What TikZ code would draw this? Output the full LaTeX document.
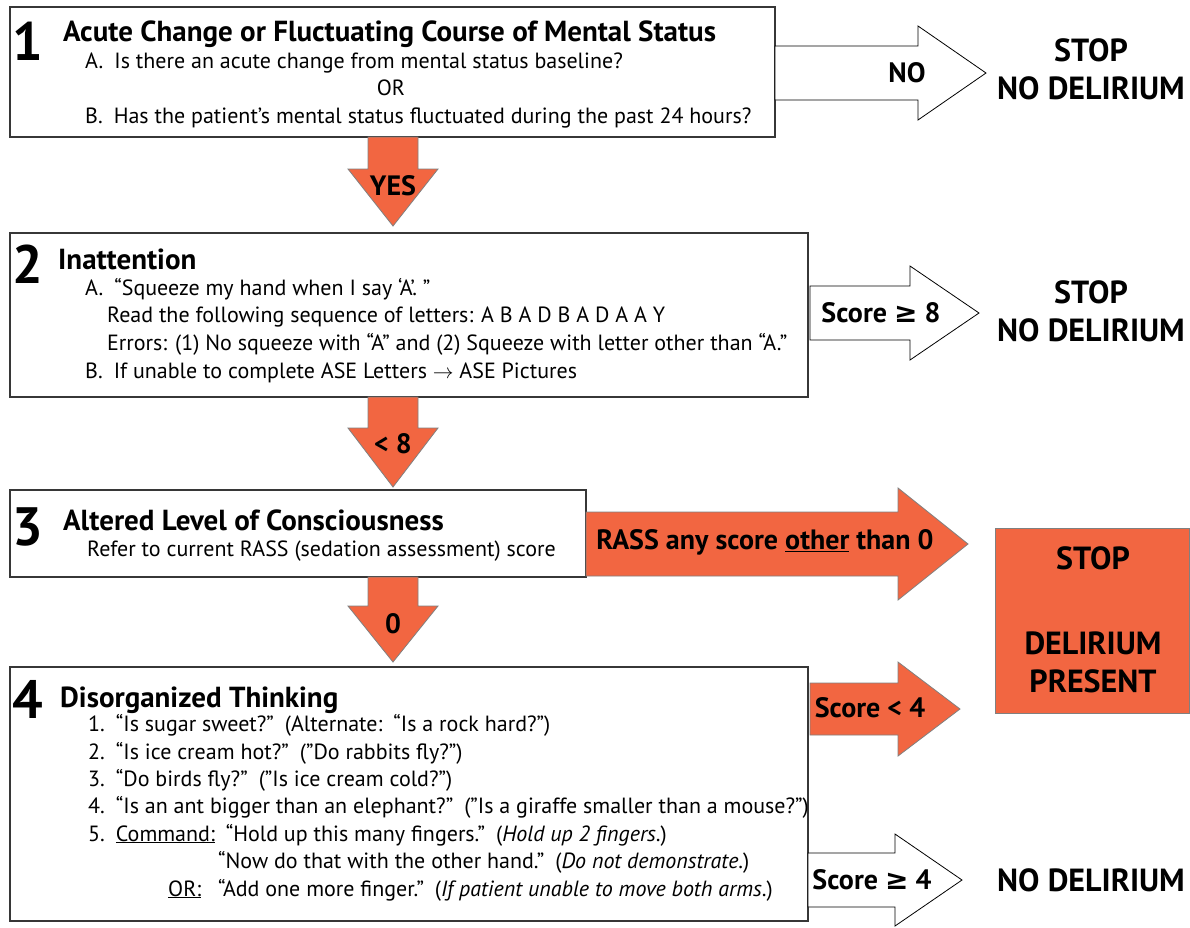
\documentclass[tikz,border=0pt]{standalone}
\usepackage{fontspec}
\setmainfont{PT Sans}
\newfontfamily\symfont{DejaVu Sans}
\usepackage{xcolor}
\usetikzlibrary{positioning}

\definecolor{camorange}{RGB}{242,102,65}
\definecolor{boxline}{RGB}{55,55,55}

% block arrow to the right: style, start x, head x, tip x, mid y, half shaft, half head
\newcommand{\rightblock}[7]{%
  \filldraw[#1] (#2,#5-#6) -- (#3,#5-#6) -- (#3,#5-#7) -- (#4,#5)
    -- (#3,#5+#7) -- (#3,#5+#6) -- (#2,#5+#6) -- cycle;}
% block arrow downwards: style, mid x, start y, head y, tip y, half shaft, half head
\newcommand{\downblock}[7]{%
  \filldraw[#1] (#2-#6,#3) -- (#2-#6,#4) -- (#2-#7,#4) -- (#2,#5)
    -- (#2+#7,#4) -- (#2+#6,#4) -- (#2+#6,#3) -- cycle;}

\begin{document}
\begin{tikzpicture}[x=1pt, y=-1pt,
    box/.style={draw=boxline, line width=1.3pt},
    num/.style={anchor=base west, inner sep=0, font=\fontsize{54}{54}\selectfont\bfseries},
    head/.style={anchor=base west, inner sep=0, font=\fontsize{29}{32}\selectfont\bfseries},
    txt/.style={anchor=base west, inner sep=0, font=\fontsize{22}{26}\selectfont},
    lbl/.style={inner sep=0, font=\fontsize{28}{30}\selectfont\bfseries},
    stop/.style={inner sep=0, align=center, font=\fontsize{32}{38}\selectfont\bfseries},
    whitearrow/.style={fill=white, draw=black, line width=0.8pt},
    redarrow/.style={fill=camorange, draw=gray, line width=0.8pt}]
    \useasboundingbox[fill=white] (0,0) rectangle (1190,927);

    % Step 1: acute change
    \draw[box] (10,7) rectangle (775,137);
    \node[num] (n1) at (12,60) {1};
    \node[head] (h1) at (63,41) {Acute Change or Fluctuating Course of Mental Status};
    \node[txt] (a1) at (85,68) {A.\enspace Is there an acute change from mental status baseline?};
    \node[txt, anchor=base] (or1) at (391,95) {OR};
    \node[txt] (b1) at (85,123) {B.\enspace Has the patient’s mental status fluctuated during the past 24 hours?};

    \rightblock{whitearrow}{775}{918}{986}{73}{27}{47}
    \node[lbl] (no1) at (907,73) {NO};
    \node[stop] (stop1) at (1091,69) {STOP\\NO DELIRIUM};

    \downblock{redarrow}{393}{137}{169}{226}{25}{45}
    \node[lbl] (yes) at (393,186) {YES};

    % Step 2: inattention
    \draw[box] (10,233) rectangle (808,397);
    \node[num] (n2) at (12,283) {2};
    \node[head] (h2) at (58,269) {Inattention};
    \node[txt] (a2) at (85,295) {A.\enspace “Squeeze my hand when I say ‘A’. ”};
    \node[txt] (r2) at (107,322) {Read the following sequence of letters: A B A D B A D A A Y};
    \node[txt] (e2) at (107,350) {Errors: (1) No squeeze with “A” and (2) Squeeze with letter other than “A.”};
    \node[txt] (b2) at (85,378) {B.\enspace If unable to complete ASE Letters $\rightarrow$ ASE Pictures};

    \rightblock{whitearrow}{810}{910}{979}{313}{27}{47}
    \node[lbl] (s8) at (881,313) {Score {\symfont ≥} 8};
    \node[stop] (stop2) at (1091,311) {STOP\\NO DELIRIUM};

    \downblock{redarrow}{393}{397}{428}{487}{25}{45}
    \node[lbl] (lt8) at (393,444) {< 8};

    % Step 3: level of consciousness
    \draw[box] (10,490) rectangle (586,577);
    \node[num] (n3) at (12,545) {3};
    \node[head] (h3) at (63,530) {Altered Level of Consciousness};
    \node[txt] (r3) at (87,556) {Refer to current RASS (sedation assessment) score};

    \rightblock{redarrow}{586}{898}{968}{544}{32}{56}
    \node[lbl] (rass) at (765,542) {RASS any score \underline{other} than 0};

    \downblock{redarrow}{393}{577}{606}{662}{25}{45}
    \node[lbl] (zero) at (393,624) {0};

    % Delirium present
    \filldraw[redarrow] (995,528) rectangle (1189,713);
    \node[stop] (stop3) at (1093,558) {STOP};
    \node[stop] (pres) at (1093,662) {DELIRIUM\\PRESENT};

    % Step 4: disorganized thinking
    \draw[box] (10,667) rectangle (808,921);
    \node[num] (n4) at (12,718) {4};
    \node[head] (h4) at (60,707) {Disorganized Thinking};
    \node[txt] (q1) at (88,731) {1.\enspace “Is sugar sweet?”\enspace (Alternate:\enspace “Is a rock hard?”)};
    \node[txt] (q2) at (88,759) {2.\enspace “Is ice cream hot?”\enspace ("Do rabbits fly?”)};
    \node[txt] (q3) at (88,786) {3.\enspace “Do birds fly?”\enspace ("Is ice cream cold?”)};
    \node[txt] (q4) at (88,813) {4.\enspace “Is an ant bigger than an elephant?”\enspace ("Is a giraffe smaller than a mouse?”)};
    \node[txt] (q5) at (88,841) {5.\enspace \underline{Command:}\enspace “Hold up this many fingers.”\enspace (\textit{Hold up 2 fingers}.)};
    \node[txt] (q6) at (218,868) {“Now do that with the other hand.”\enspace (\textit{Do not demonstrate}.)};
    \node[txt] (or4) at (168,896) {\underline{OR:}};
    \node[txt] (q7) at (218,896) {“Add one more finger.”\enspace (\textit{If patient unable to move both arms}.)};

    \rightblock{redarrow}{810}{898}{960}{709}{26}{47}
    \node[lbl] (lt4) at (870,708) {Score < 4};

    \rightblock{whitearrow}{808}{895}{962}{880}{27}{46}
    \node[lbl] (s4) at (872,880) {Score {\symfont ≥} 4};
    \node[stop] (nodel) at (1091,880) {NO DELIRIUM};
\end{tikzpicture}
\end{document}
